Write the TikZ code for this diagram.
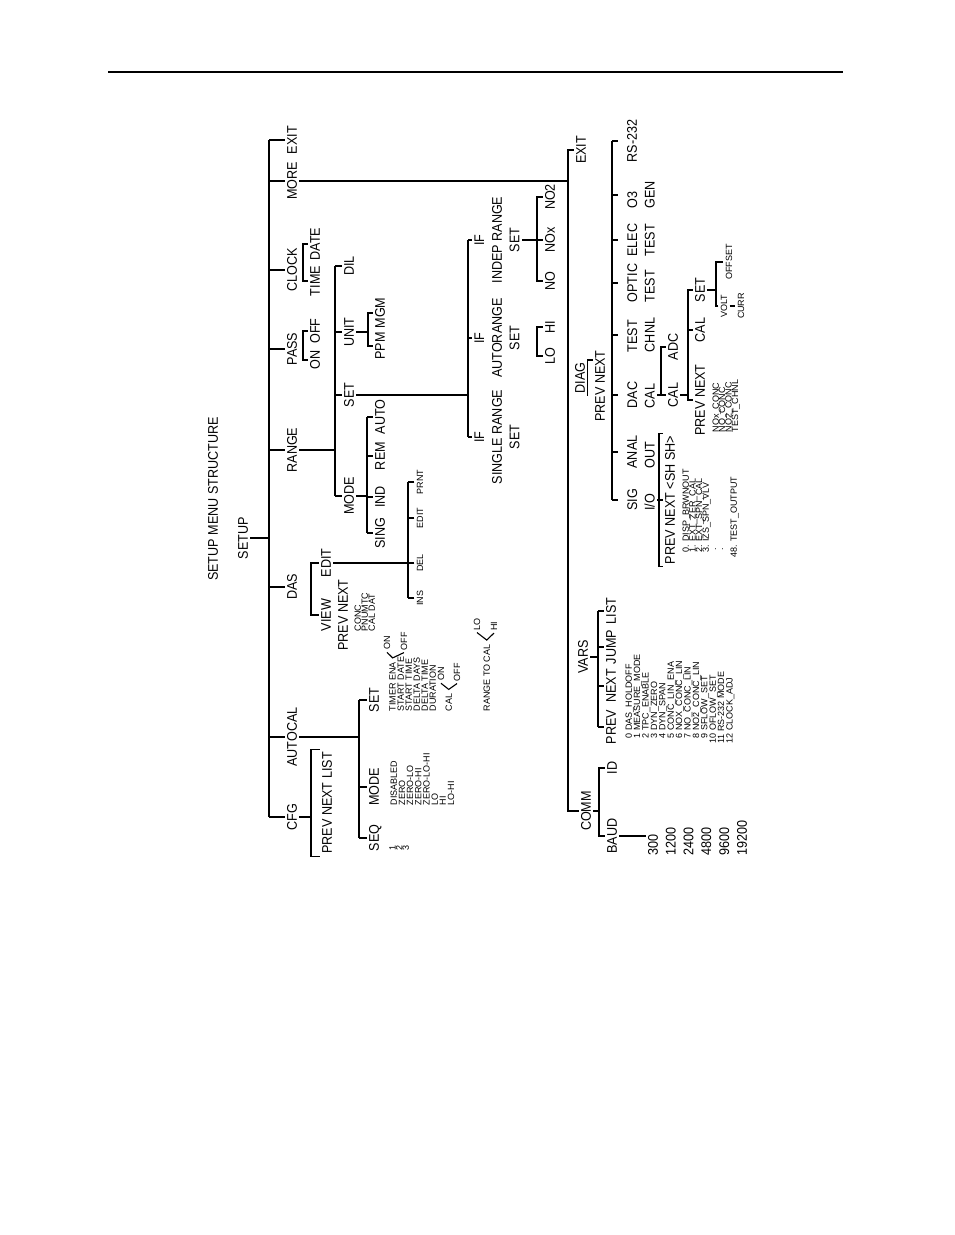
\documentclass[tikz,border=0pt]{standalone}
\usepackage{fontspec}
\setmainfont{Liberation Sans}[FakeStretch=0.9]
\newfontfamily\smallfam{Liberation Sans}[FakeStretch=1.0]
\newcommand\cadfont{\fontsize{7}{8.8}\selectfont}
\newcommand\cadsmall{\smallfam\fontsize{4.5}{4.5}\selectfont}
\tikzset{
   lbl/.style={rotate=90, inner sep=1pt, text height=4.8pt, text depth=0pt, font=\cadfont},
   blk/.style={rotate=90, inner sep=1pt, align=center, font=\cadfont},
   sml/.style={rotate=90, inner sep=1pt, text height=3.1pt, text depth=0pt, font=\cadsmall},
   lst/.style={rotate=90, inner sep=0pt, anchor=north west, font=\cadsmall},
   gap/.style={shorten >=3.5pt}
}
\begin{document}
\begin{tikzpicture}[x=0.5pt, y=-0.5pt, line width=0.55pt]
   \useasboundingbox (0,0) rectangle (954,1235);
   \draw (108,72) -- (843,72);
   \node[lbl] (title) at (213,499) {SETUP MENU STRUCTURE};
   \node[lbl] (setup) at (243,538) {SETUP};

   \coordinate (s1) at (269,0);
   \def \Top {
      exit/140/EXIT,
      more/181/MORE,
      clock/270/CLOCK,
      pass/349/PASS,
      range/450/RANGE,
      das/587/DAS,
      autocal/737/AUTOCAL,
      cfg/817/CFG}
   \foreach \n / \y / \txt in \Top {
      \node[lbl] (\n) at (292, \y) {\txt};
      \path[draw] (\n.north) -- (\n.north -| s1);
   }
   \path[draw] (exit.north -| s1) -- (cfg.north -| s1);
   \path[draw] (setup.south) -- (setup.south -| s1);

   \coordinate (cfgb) at (311,0);
   \node[lbl] (cfgpn) at (327,803) {PREV NEXT LIST};
   \path[draw] (cfg.south) -- (cfg.south -| cfgb);
   \path[draw] (cfgpn.north west) -- (cfgpn.north west -| cfgb)
      -- (cfgpn.north east -| cfgb) -- (cfgpn.north east);

   \coordinate (acb) at (359,0);
   \foreach \n / \y / \txt in {acset/700/SET, acmode/787/MODE, acseq/838/SEQ} {
      \node[lbl] (\n) at (374, \y) {\txt};
      \path[draw] (\n.north) -- (\n.north -| acb);
   }
   \path[draw] (autocal.south) -- (autocal.south -| acb);
   \path[draw] (acset.north -| acb) -- (acseq.north -| acb);
   \foreach \txt [count=\k from 0] in {1,2,3}
      \node[lst] (sq\k) at ({389+6.5*\k}, 851) {\txt};
   \foreach \txt [count=\k from 0] in {DISABLED,ZERO,ZERO-LO,ZERO-HI,ZERO-LO-HI,LO,HI,LO-HI}
      \node[lst] (md\k) at ({390+8.2*\k}, 806) {\txt};
   \foreach \txt [count=\k from 0] in {TIMER ENA,START DATE,START TIME,DELTA DAYS,DELTA TIME,DURATION}
      \node[lst] (as\k) at ({389+8*\k}, 712) {\txt};
   \node[lst] (ascal) at (445,712) {CAL};
   \node[lst] (asrng) at (483,712) {RANGE TO CAL};
   \node[sml] (onone) at (387,643) {ON};
   \node[sml] (offone) at (404,641) {OFF};
   \node[sml] (ontwo) at (441,674) {ON};
   \node[sml] (offtwo) at (457,672) {OFF};
   \node[sml] (lothree) at (477,624) {LO};
   \node[sml] (hithree) at (494,626) {HI};
   \path (as0.east) ++(0,-4) coordinate (vena);
   \path (ascal.east) ++(0,-4) coordinate (vcal);
   \path (asrng.east) ++(0,-4) coordinate (vrng);
   \path[draw] (onone.west) -- (vena) -- (offone.west);
   \path[draw] (ontwo.west) -- (vcal) -- (offtwo.west);
   \path[draw] (lothree.west) -- (vrng) -- (hithree.west);

   \coordinate (dasb) at (311,0);
   \node[lbl] (view) at (326,615) {VIEW};
   \node[lbl] (edit) at (326,563) {EDIT};
   \node[lbl] (viewpn) at (343,615) {PREV NEXT};
   \path[draw] (view.north) -- (view.north -| dasb) -- (edit.north -| dasb) -- (edit.north);
   \foreach \txt [count=\k from 0] in {CONC,PNUMTC,CAL DAT}
      \node[lst] (dl\k) at ({354+7*\k}, 632) {\txt};
   \coordinate (edb) at (408,0);
   \path[draw] (edit.south) -- (edit.south -| edb);
   \foreach \n / \y / \txt in {ins/598/INS, del/563/DEL, sedit/518/EDIT, prnt/482/PRNT} {
      \node[sml] (\n) at (420, \y) {\txt};
      \path[draw] (\n.north) -- (\n.north -| edb);
   }
   \path[draw] (prnt.north -| edb) -- (ins.north -| edb);

   \coordinate (pcb) at (303,0);
   \node[lbl] (pon) at (315,360) {ON};
   \node[lbl] (poff) at (315,331) {OFF};
   \path[draw] (pon.north) -- (pon.north -| pcb) -- (poff.north -| pcb) -- (poff.north);
   \node[lbl] (ctime) at (315,281) {TIME};
   \node[lbl] (cdate) at (315,244) {DATE};
   \path[draw] (ctime.north) -- (ctime.north -| pcb) -- (cdate.north -| pcb) -- (cdate.north);

   \coordinate (rab) at (335,0);
   \foreach \n / \y / \txt in {rdil/266/DIL, runit/332/UNIT, rset/395/SET, rmode/496/MODE} {
      \node[lbl] (\n) at (349, \y) {\txt};
      \path[draw] (\n.north) -- (\n.north -| rab);
   }
   \path[draw] (range.south) -- (range.south -| rab);
   \path[draw] (rdil.north -| rab) -- (rmode.north -| rab);

   \coordinate (rmb) at (367,0);
   \foreach \n / \y / \txt in {rauto/417/AUTO, rrem/456/REM, rind/497/IND, rsing/533/SING} {
      \node[lbl] (\n) at (380, \y) {\txt};
      \path[draw] (\n.north) -- (\n.north -| rmb);
   }
   \path[draw] (rmode.south) -- (rmode.south -| rmb);
   \path[draw] (rauto.north -| rmb) -- (rsing.north -| rmb);

   \coordinate (unb) at (368,0);
   \node[lbl] (ppm) at (380,346) {PPM};
   \node[lbl] (mgm) at (380,313) {MGM};
   \path[draw] (runit.south) -- (runit.south -| unb);
   \path[draw] (ppm.north) -- (ppm.north -| unb) -- (mgm.north -| unb) -- (mgm.north);

   \coordinate (rsb) at (468,0);
   \node[blk] (ifindep) at (497,240) {IF\\INDEP RANGE\\SET};
   \node[blk] (ifauto) at (497,338) {IF\\AUTORANGE\\SET};
   \node[blk] (ifsingle) at (497,437) {IF\\SINGLE RANGE\\SET};
   \path[draw] (rset.south) -- (rset.south -| rsb);
   \foreach \n in {ifindep, ifauto, ifsingle}
      \path[draw] (\n.north) -- (\n.north -| rsb);
   \path[draw] (ifindep.north -| rsb) -- (ifsingle.north -| rsb);

   \coordinate (lhb) at (537,0);
   \node[lbl] (lo) at (550,356) {LO};
   \node[lbl] (hi) at (550,327) {HI};
   \path[draw] (lo.north) -- (lo.north -| lhb) -- (hi.north -| lhb) -- (hi.north);
   \node[lbl] (no) at (550,281) {NO};
   \node[lbl] (nox) at (550,240) {NOx};
   \node[lbl] (notwo) at (550,197) {NO2};
   \path[draw] (no.north) -- (no.north -| lhb) -- (notwo.north -| lhb) -- (notwo.north);
   \path[draw] (ifindep.south) -- (nox.north);

   \coordinate (s2) at (568,0);
   \path[draw] (more.south) -- (more.south -| s2);
   \node[lbl] (exittwo) at (581,150) {EXIT};
   \node[lbl] (comm) at (586,811) {COMM};
   \path[draw] (exittwo.north) -- (exittwo.north -| s2) -- (comm.north -| s2) -- (comm.north);

   \node[lbl] (diag) at (580,378) {DIAG};
   \path[draw] (diag.south west) -- (diag.south east) -- ++(6,0);
   \node[lbl] (diagpn) at (600,386) {PREV NEXT};
   \coordinate (dgb) at (612,0);
   \node[lbl] (rs) at (632,141) {RS-232};
   \def \Diag {
      othree/195/{O3\\GEN},
      elec/240/{ELEC\\TEST},
      optic/283/{OPTIC\\TEST},
      testch/335/{TEST\\CHNL},
      dac/395/{DAC\\CAL},
      anal/452/{ANAL\\OUT},
      sigio/500/{SIG\\I/O}}
   \foreach \n / \y / \txt in \Diag
      \node[blk, align=left] (\n) at (641, \y) {\txt};
   \foreach \n in {rs, othree, elec, optic, testch, dac, anal, sigio}
      \path[draw, gap] (\n.north -| dgb) -- (\n.north);
   \path[draw] (rs.north -| dgb) -- (sigio.north -| dgb);

   \coordinate (dcb) at (661,0);
   \node[lbl] (adc) at (673,347) {ADC};
   \node[lbl] (caltwo) at (673,395) {CAL};
   \path[draw] (dac.south) -- (caltwo.north);
   \path[draw] (adc.north) -- (adc.north -| dcb) -- (caltwo.north -| dcb);

   \coordinate (ccb) at (688,0);
   \node[lbl] (cset) at (700,290) {SET};
   \node[lbl] (ccal) at (700,330) {CAL};
   \node[lbl] (cpn) at (700,400) {PREV NEXT};
   \path[draw] (caltwo.south) -- (caltwo.south -| ccb);
   \path[draw] (cset.north) -- (cset.north -| ccb) -- (cpn.north -| ccb) -- (cpn.north);
   \path[draw] (ccal.north) -- (ccal.north -| ccb);
   \foreach \txt [count=\k from 0] in {NOx\_CONC,NO\_CONC,NO2\_CONC,TEST\_CHNL}
      \node[lst] (cl\k) at ({712+6.4*\k}, 433) {\txt};

   \coordinate (vob) at (716,0);
   \node[sml] (offset) at (729,262) {OFFSET};
   \node[sml] (volt) at (724,306) {VOLT};
   \node[sml] (curr) at (741,306) {CURR};
   \path[draw] (cset.south) -- (cset.south -| vob);
   \path[draw] (volt.north) -- (volt.north -| vob) -- (offset.north -| vob) -- (offset.north);
   \path[draw] (volt.south) -- (curr.north);

   \coordinate (sib) at (659,0);
   \node[lbl] (sigpn) at (670,500) {PREV NEXT <SH SH>};
   \path[draw] (sigio.south) -- (sigpn.north);
   \path[draw] (sigpn.north west) -- (sigpn.north west -| sib)
      -- (sigpn.north east -| sib) -- (sigpn.north east);
   \foreach \txt [count=\k from 0] in {\hphantom{4}0. DISP\_BRWNOUT,\hphantom{4}1. EXT\_ZER\_CAL,
         \hphantom{4}2. EXT\_SPN\_CAL,\hphantom{4}3. IZS\_SPN\_VLV}
      \node[lst] (sl\k) at ({682+6.7*\k}, 558) {\txt};
   \node[lst] (sldota) at (714,556) {\hphantom{4}.};
   \node[lst] (sldotb) at (721,556) {\hphantom{4}.};
   \node[lst] (slend) at (730,558) {48. TEST\_OUTPUT};

   \node[lbl] (vars) at (583,657) {VARS};
   \coordinate (vab) at (598,0);
   \path[draw] (vars.south) -- (vars.south -| vab);
   \foreach \n / \y / \txt in {vlist/611/LIST, vjump/647/JUMP, vnext/686/NEXT, vprev/727/PREV} {
      \node[lbl] (\n) at (611, \y) {\txt};
      \path[draw] (\n.north) -- (\n.north -| vab);
   }
   \path[draw] (vlist.north -| vab) -- (vprev.north -| vab);
   \def \Vars {
      \hphantom{1}0 DAS\_HOLDOFF,
      \hphantom{1}1 MEASURE\_MODE,
      \hphantom{1}2 TPC\_ENABLE,
      \hphantom{1}3 DYN\_ZERO,
      \hphantom{1}4 DYN\_SPAN,
      \hphantom{1}5 CONC\_LIN\_ENA,
      \hphantom{1}6 NOX\_CONC\_LIN,
      \hphantom{1}7 NO\_CONC\_LIN,
      \hphantom{1}8 NO2\_CONC\_LIN,
      \hphantom{1}9 SFLOW\_SET,
      10 OFLOW\_SET,
      11 RS-232 MODE,
      12 CLOCK\_ADJ}
   \foreach \txt [count=\k from 0] in \Vars
      \node[lst] (vl\k) at ({625+8.4*\k}, 744) {\txt};

   \coordinate (cmb) at (599,0);
   \node[lbl] (cid) at (612,768) {ID};
   \node[lbl] (baud) at (612,836) {BAUD};
   \path[draw] (comm.south) -- (comm.south -| cmb);
   \path[draw] (cid.north) -- (cid.north -| cmb) -- (baud.north -| cmb) -- (baud.north);
   \foreach \txt [count=\k from 0] in {300,1200,2400,4800,9600,19200}
      \node[lbl, anchor=west] (br\k) at ({653+17.8*\k}, 858) {\txt};
   \path[draw] (baud.south) -- (baud.south -| br0.north);
\end{tikzpicture}
\end{document}
